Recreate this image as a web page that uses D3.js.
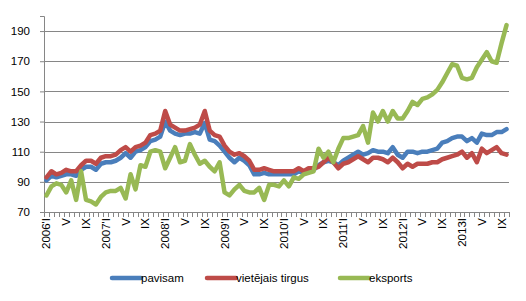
<!DOCTYPE html>
<html>
<head>
<meta charset="utf-8">
<script src="https://cdn.jsdelivr.net/npm/d3@7"></script>
<style>
body { margin: 0; background: #fff; }
text { font-family: "Liberation Sans", Arial, sans-serif; fill: #000; }
</style>
</head>
<body>
<script>
// monthly series, 2006 I .. 2013 X
var pavisam = [91,94,93,94,95,95,94,98,100,100,98,102,
  103,103,104,106,109,106,110,111,113,117,118,120,
  130,124,122,121,122,122,123,122,129,118,117,114,
  110,106,103,106,104,101,95,95,96,95,95,95,
  95,95,95,97,96,97,98,101,103,104,103,101,
  104,106,108,110,108,109,111,110,110,109,113,108,
  106,110,110,109,110,110,111,112,116,117,119,120,
  120,117,119,116,122,121,121,123,123,125]
var vietejais = [93,97,95,96,98,97,97,101,104,104,102,106,
  107,107,108,111,113,110,113,114,116,121,122,124,
  137,128,126,124,124,125,126,128,137,124,121,120,
  114,110,108,109,107,104,98,98,99,98,97,97,
  97,97,97,99,97,99,99,100,103,106,103,99,
  102,103,105,107,105,103,106,106,105,103,106,103,
  99,102,100,102,102,102,103,103,105,106,107,108,
  110,106,109,103,112,109,111,113,109,108]
var eksports = [81,87,89,88,83,91,78,97,78,77,75,80,
  83,84,84,86,79,95,85,101,100,110,111,110,
  99,106,113,103,104,115,108,102,104,100,97,103,
  83,81,85,88,84,83,83,86,78,88,88,87,
  91,87,93,92,95,96,97,112,106,110,103,112,
  119,119,120,121,127,116,136,130,137,130,137,132,
  132,137,143,141,145,146,148,151,156,162,168,167,
  159,158,159,166,171,176,170,169,182,194]

var tickLabels = ["2006'I","V","IX","2007'I","V","IX","2008'I","V","IX",
  "2009'I","V","IX","2010'I","V","IX","2011'I","V","IX",
  "2012'I","V","IX","2013I","V","IX"]
var yTicks = [70,90,110,130,150,170,190]
var names = ["pavisam","vietējais tirgus","eksports"]
var colors = ["#4A7EBB","#BE4B48","#98B954"]

var W = 526, H = 301
var plot = {left: 44, right: 509, top: 16, bottom: 212}

var svg = d3.select("body").append("svg").attr("width", W).attr("height", H)

var idx = d3.range(pavisam.length)
var x = d3.scaleBand().domain(idx).range([plot.left, plot.right]).padding(0)
var y = d3.scaleLinear().domain([70, 200]).range([plot.bottom, plot.top])

// gridlines
svg.append("g").selectAll("line").data(yTicks.slice(1)).enter().append("line")
  .attr("x1", plot.left).attr("x2", plot.right)
  .attr("y1", function(d){return Math.round(y(d)) + 0.5}).attr("y2", function(d){return Math.round(y(d)) + 0.5})
  .attr("stroke", "#868686").attr("stroke-width", 1)

// y axis
var yAxis = svg.append("g").attr("transform", `translate(${plot.left},0)`)
  .call(d3.axisLeft(y).tickValues(yTicks).tickSize(4).tickPadding(10))
yAxis.select(".domain").attr("stroke", "#868686")
yAxis.selectAll(".tick line").attr("stroke", "#868686")
yAxis.selectAll("text").attr("font-size", 11.5).attr("font-family", "Liberation Sans, Arial")

// x axis line + monthly ticks at boundaries
svg.append("line").attr("x1", plot.left).attr("x2", plot.right)
  .attr("y1", plot.bottom + 0.5).attr("y2", plot.bottom + 0.5)
  .attr("stroke", "#868686")
svg.append("g").selectAll("line").data(d3.range(pavisam.length + 1)).enter().append("line")
  .attr("x1", function(d){return Math.round(plot.left + d * x.bandwidth()) + 0.5})
  .attr("x2", function(d){return Math.round(plot.left + d * x.bandwidth()) + 0.5})
  .attr("y1", plot.bottom).attr("y2", plot.bottom + 5)
  .attr("stroke", "#868686")

// x labels every 4 months
svg.append("g").selectAll("text").data(tickLabels).enter().append("text")
  .text(function(d){return d})
  .attr("transform", function(d, i){
    var cx = x(i * 4) + x.bandwidth() / 2
    return `translate(${cx + 4}, ${plot.bottom + 6}) rotate(-90)`
  })
  .attr("text-anchor", "end")
  .attr("font-size", 11.5)

// lines
var line = d3.line()
  .x(function(d, i){return x(i) + x.bandwidth() / 2})
  .y(function(d){return y(d)})

var series = [pavisam, vietejais, eksports]
series.forEach(function(s, k){
  svg.append("path").datum(s).attr("d", line)
    .attr("fill", "none").attr("stroke", colors[k]).attr("stroke-width", 4.5)
    .attr("stroke-linejoin", "round").attr("stroke-linecap", "round")
})

// legend
var legX = [112, 207, 340]
var leg = svg.append("g").selectAll("g").data(names).enter().append("g")
  .attr("transform", function(d, i){return `translate(${legX[i]}, 278)`})
leg.append("line").attr("x1", 0).attr("x2", 29).attr("y1", 0).attr("y2", 0)
  .attr("stroke", function(d, i){return colors[i]}).attr("stroke-width", 4.5)
  .attr("stroke-linecap", "round")
leg.append("text").text(function(d){return d})
  .attr("x", 29).attr("y", 4).attr("font-size", 11.5)
</script>
</body>
</html>
